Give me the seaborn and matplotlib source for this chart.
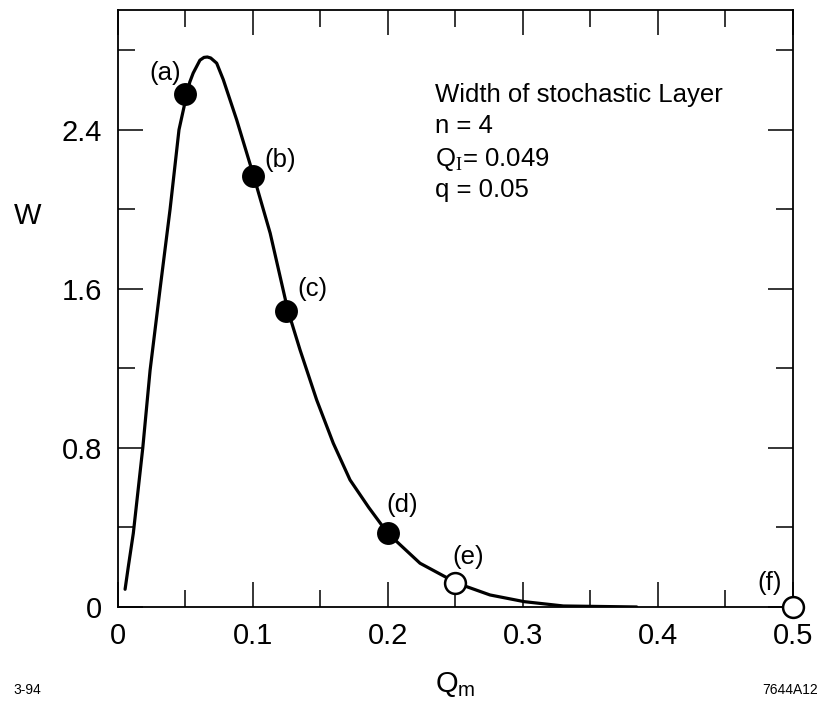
import numpy as np
import pandas as pd
import matplotlib
matplotlib.use("Agg")
import matplotlib.pyplot as plt
import seaborn as sns
from matplotlib.ticker import MultipleLocator

# curve
qm = [0.0056, 0.008, 0.0117, 0.0187, 0.0241, 0.0315, 0.0389, 0.0455, 0.0512,
      0.0535, 0.056, 0.061, 0.064, 0.0665, 0.069, 0.0734, 0.0783, 0.0882,
      0.1005, 0.113, 0.126, 0.1351, 0.1474, 0.1597, 0.1721, 0.186, 0.2,
      0.2239, 0.2515, 0.2757, 0.3011, 0.33, 0.3843]
w = [0.089, 0.203, 0.371, 0.8, 1.19, 1.6, 2.0, 2.4, 2.576,
     2.64, 2.685, 2.75, 2.764, 2.766, 2.761, 2.735, 2.652, 2.45,
     2.174, 1.88, 1.494, 1.293, 1.0415, 0.8236, 0.639, 0.50, 0.371,
     0.22, 0.119, 0.0604, 0.0267, 0.005, 0.0]

# marked cases
pt_labels = ["(a)", "(b)", "(c)", "(d)", "(e)", "(f)"]
pt_q = [0.05, 0.1, 0.125, 0.2, 0.25, 0.5]
pt_w = [2.58, 2.17, 1.49, 0.37, 0.12, 0.0]
pt_filled = [True, True, True, True, False, False]
lab_q = [0.0352, 0.1203, 0.1442, 0.2104, 0.2597, 0.483]
lab_w = [2.688, 2.249, 1.598, 0.513, 0.253, 0.122]

info = ["Width of stochastic Layer", "n = 4", r"Q$_\mathrm{I}$= 0.049", "q = 0.05"]
info_w = [2.542, 2.385, 2.219, 2.063]

sns.set_theme(style="ticks")
plt.rcParams['font.family'] = ['Liberation Sans', 'DejaVu Sans']
plt.rcParams['mathtext.fontset'] = 'custom'
plt.rcParams['mathtext.rm'] = 'Liberation Serif'
plt.rcParams['mathtext.sf'] = 'Liberation Sans'
plt.rcParams['text.color'] = 'black'
plt.rcParams['axes.labelcolor'] = 'black'
plt.rcParams['xtick.color'] = 'black'
plt.rcParams['ytick.color'] = 'black'

curve = pd.DataFrame({'Qm': qm, 'W': w})
pts = pd.DataFrame({'Qm': pt_q, 'W': pt_w, 'filled': pt_filled})

fig, ax = plt.subplots(figsize=(8.27, 7.08), dpi=100)
fig.subplots_adjust(left=0.1421, right=0.9589, top=0.9852, bottom=0.1427)

sns.lineplot(data=curve, x='Qm', y='W', color='black', lw=2.3, ax=ax,
             estimator=None, sort=False)
sns.scatterplot(data=pts[pts.filled], x='Qm', y='W', s=225, color='black',
                edgecolor='black', linewidth=1.5, ax=ax, zorder=5)
sns.scatterplot(data=pts[~pts.filled], x='Qm', y='W', s=225, color='white',
                edgecolor='black', linewidth=1.8, ax=ax, zorder=5, clip_on=False)

for t, x, y in zip(pt_labels, lab_q, lab_w):
    ax.text(x, y, t, ha='center', va='center', fontsize=18.5)

for t, y in zip(info, info_w):
    ax.text(0.235, y, t, ha='left', va='baseline', fontsize=18.5)

ax.xaxis.set_minor_locator(MultipleLocator(0.05))
ax.yaxis.set_minor_locator(MultipleLocator(0.4))
ax.set_xticks([0, 0.1, 0.2, 0.3, 0.4, 0.5])
ax.set_xticklabels(['0', '0.1', '0.2', '0.3', '0.4', '0.5'])
ax.set_yticks([0, 0.8, 1.6, 2.4])
ax.set_yticklabels(['0', '0.8', '1.6', '2.4'])
ax.set_ylim(0, 3.0)
ax.set_xlim(0, 0.5)

ax.tick_params(which='both', direction='in', top=True, right=True,
               color='black', width=1.1)
ax.tick_params(which='major', length=18, labelsize=21, pad=11)
ax.tick_params(which='minor', length=12)
for s in ax.spines.values():
    s.set_linewidth(1.3)
    s.set_color('black')

ax.set_xlabel(r"Q$_\mathsf{m}$", fontsize=21, labelpad=14)
ax.set_ylabel("W", rotation=0, fontsize=21)
ax.yaxis.set_label_coords(-0.133, 0.655)
ax.yaxis.label.set_va('center')

fig.text(27 / 827, 1 - 690 / 708, "3-94", ha='center', va='center', fontsize=10)
fig.text(790 / 827, 1 - 690 / 708, "7644A12", ha='center', va='center', fontsize=10)

fig.savefig("out.png", dpi=100, facecolor='white')
